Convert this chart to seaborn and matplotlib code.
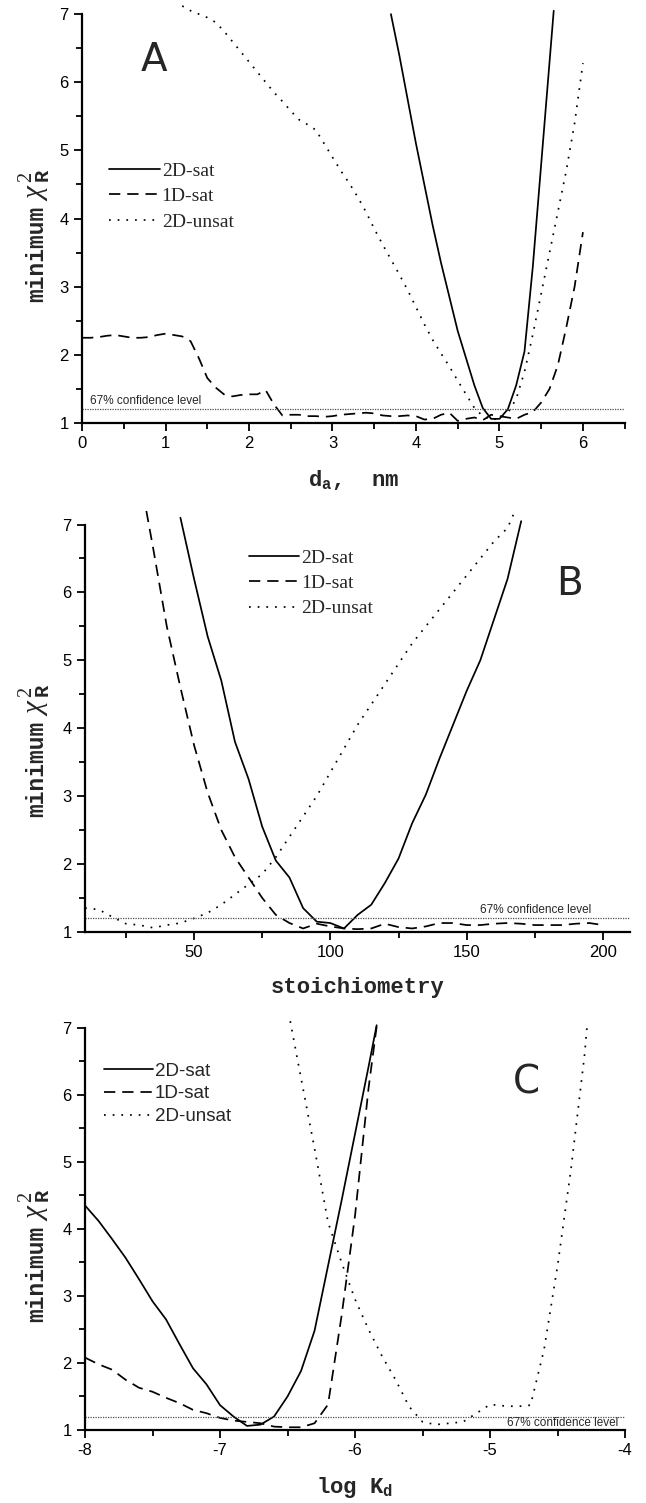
import numpy as np
import pandas as pd
import seaborn as sns
from matplotlib import pyplot as plt
from matplotlib.ticker import MultipleLocator

# PANEL A : d_a, nm
a_sat2d_x = [3.7, 3.8, 3.9, 4.0, 4.1, 4.2, 4.3, 4.4, 4.5, 4.6, 4.7, 4.8, 4.9,
             5.0, 5.1, 5.2, 5.3, 5.4, 5.5, 5.6, 5.65]
a_sat2d_y = [7.0, 6.4, 5.75, 5.1, 4.5, 3.9, 3.35, 2.85, 2.35, 1.95, 1.55, 1.22, 1.06,
             1.06, 1.2, 1.55, 2.05, 3.3, 4.8, 6.3, 7.05]

a_sat1d_x = [round(0.1 * i, 1) for i in range(61)]
a_sat1d_y = [2.25, 2.25, 2.26, 2.28, 2.29, 2.27, 2.25, 2.25, 2.26, 2.29,
             2.31, 2.29, 2.27, 2.2, 1.95, 1.66, 1.52, 1.42, 1.39, 1.41,
             1.42, 1.42, 1.48, 1.27, 1.11, 1.12, 1.12, 1.1, 1.1, 1.09,
             1.1, 1.12, 1.13, 1.14, 1.15, 1.14, 1.11, 1.1, 1.1, 1.11,
             1.1, 1.05, 1.06, 1.12, 1.15, 1.03, 1.06, 1.08, 1.04, 1.12,
             1.1, 1.08, 1.06, 1.12, 1.16, 1.3, 1.5, 1.85, 2.4, 3.0, 3.8]

a_unsat_x = [round(1.2 + 0.1 * i, 1) for i in range(49)]
a_unsat_y = [7.12, 7.05, 7.0, 6.95, 6.88, 6.75, 6.6, 6.45, 6.3,
             6.15, 6.0, 5.85, 5.72, 5.58, 5.45, 5.38, 5.3, 5.1, 4.9,
             4.7, 4.52, 4.32, 4.1, 3.85, 3.62, 3.4, 3.18, 2.95, 2.7,
             2.45, 2.22, 2.02, 1.83, 1.62, 1.42, 1.22, 1.1, 1.05, 1.06,
             1.15, 1.35, 1.75, 2.3, 2.9, 3.5, 4.1, 4.7, 5.4, 6.28]

# PANEL B : stoichiometry
b_sat2d_x = [45] + list(range(50, 175, 5))
b_sat2d_y = [7.1, 6.2, 5.35, 4.7, 3.8, 3.25, 2.55, 2.05, 1.8, 1.35, 1.15, 1.13, 1.05,
             1.25, 1.4, 1.72, 2.08, 2.6, 3.02, 3.55, 4.05, 4.55, 5.0, 5.6, 6.2, 7.05]

b_sat1d_x = [32.5] + list(range(35, 205, 5))
b_sat1d_y = [7.2, 6.65, 5.5, 4.6, 3.75, 3.05, 2.5, 2.1, 1.8, 1.5, 1.25, 1.13, 1.05, 1.12,
             1.08, 1.05, 1.04, 1.05, 1.12, 1.07, 1.05, 1.08, 1.13, 1.13, 1.1, 1.1,
             1.12, 1.13, 1.12, 1.1, 1.1, 1.1, 1.12, 1.13, 1.1]

b_unsat_x = list(range(10, 170, 5)) + [167.5]
b_unsat_y = [1.35, 1.33, 1.22, 1.12, 1.1, 1.06, 1.1, 1.13, 1.2, 1.28, 1.4, 1.55, 1.7,
             1.85, 2.1, 2.4, 2.7, 3.0, 3.35, 3.7, 4.05, 4.35, 4.65, 4.95, 5.25, 5.5,
             5.75, 6.0, 6.25, 6.5, 6.75, 6.95, 7.18]

# PANEL C : log Kd
c_sat2d_x = [round(-8 + 0.1 * i, 1) for i in range(22)] + [-5.84]
c_sat2d_y = [4.35, 4.12, 3.85, 3.57, 3.25, 2.92, 2.65, 2.28, 1.92, 1.68, 1.37, 1.2, 1.06,
             1.08, 1.2, 1.5, 1.88, 2.48, 3.45, 4.42, 5.42, 6.42, 7.04]

c_sat1d_x = [round(-8 + 0.1 * i, 1) for i in range(22)] + [-5.84]
c_sat1d_y = [2.08, 1.98, 1.9, 1.75, 1.63, 1.57, 1.48, 1.4, 1.3, 1.25, 1.18, 1.14, 1.12,
             1.1, 1.05, 1.04, 1.04, 1.1, 1.38, 2.7, 4.2, 6.1, 7.02]

c_unsat_x = [-6.48] + [round(-6.4 + 0.1 * i, 1) for i in range(22)] + [-4.28]
c_unsat_y = [7.1, 6.25, 5.2, 4.1, 3.5, 2.95, 2.5, 2.1, 1.75, 1.35, 1.12, 1.08,
             1.1, 1.12, 1.25, 1.38, 1.36, 1.35, 1.37, 2.2, 3.45, 4.9, 6.6, 7.06]

models = ['2D-sat', '1D-sat', '2D-unsat']
confidence = 1.2


def make_df(series):
    res = []
    for name, xs, ys in series:
        res.append(pd.DataFrame({'x': xs, 'chi': ys, 'model': name}))
    return pd.concat(res, ignore_index=True)


dfA = make_df([('2D-sat', a_sat2d_x, a_sat2d_y), ('1D-sat', a_sat1d_x, a_sat1d_y),
               ('2D-unsat', a_unsat_x, a_unsat_y)])
dfB = make_df([('2D-sat', b_sat2d_x, b_sat2d_y), ('1D-sat', b_sat1d_x, b_sat1d_y),
               ('2D-unsat', b_unsat_x, b_unsat_y)])
dfC = make_df([('2D-sat', c_sat2d_x, c_sat2d_y), ('1D-sat', c_sat1d_x, c_sat1d_y),
               ('2D-unsat', c_unsat_x, c_unsat_y)])

sns.set_theme(style='ticks')
plt.rcParams['font.family'] = ['Liberation Sans', 'DejaVu Sans']
plt.rcParams['axes.unicode_minus'] = False
plt.rcParams['mathtext.fontset'] = 'custom'
plt.rcParams['mathtext.rm'] = 'Liberation Serif'
plt.rcParams['mathtext.it'] = 'Liberation Serif:italic'
plt.rcParams['mathtext.tt'] = 'Liberation Mono:bold'
plt.rcParams['mathtext.bf'] = 'Liberation Mono:bold'

dashes = {'2D-sat': '', '1D-sat': (6.5, 4), '2D-unsat': (1, 4)}

fig = plt.figure(figsize=(6.46, 15.03), dpi=100)
axA = fig.add_axes([0.127, 0.7186, 0.840, 0.272])
axB = fig.add_axes([0.1316, 0.380, 0.844, 0.271])
axC = fig.add_axes([0.1316, 0.0486, 0.836, 0.2675])

# ax, data, xlim, major, minor, xlabel, ylabel x, ylabel y (minimum), ylabel y (chi)
panels = [
    (axA, dfA, (0, 6.5), 1, 0.5, r'd$_{\mathtt{a}}$,  nm', -0.083, 0.296, 0.543),
    (axB, dfB, (10, 210), 50, 25, 'stoichiometry', -0.088, 0.282, 0.530),
    (axC, dfC, (-8, -4), 1, 0.5, r'log K$_{\mathtt{d}}$', -0.089, 0.269, 0.520),
]

for ax, df, xlim, major, minor, xlabel, yl_x, yl_min, yl_chi in panels:
    sns.lineplot(data=df, x='x', y='chi', style='model', style_order=models,
                 dashes=dashes, color='black', linewidth=1.25, sort=False,
                 estimator=None, clip_on=False, ax=ax)
    ax.axhline(confidence, ls=(0, (1, 1)), lw=0.9, color='0.3')
    ax.set_xlim(*xlim)
    ax.set_ylim(1, 7)
    ax.xaxis.set_major_locator(MultipleLocator(major))
    ax.xaxis.set_minor_locator(MultipleLocator(minor))
    ax.yaxis.set_major_locator(MultipleLocator(1))
    ax.yaxis.set_minor_locator(MultipleLocator(0.5))
    ax.tick_params(which='major', direction='out', length=6, width=1.3,
                   labelsize=12, color='black', labelcolor='black')
    ax.tick_params(which='minor', direction='out', length=4, width=1.3, color='black')
    for s in ['top', 'right']:
        ax.spines[s].set_visible(False)
    for s in ['left', 'bottom']:
        ax.spines[s].set_linewidth(1.6)
        ax.spines[s].set_color('black')
    ax.set_xlabel(xlabel, family='Liberation Mono', weight='bold', fontsize=16, labelpad=12)
    ax.set_ylabel('')
    ax.text(yl_x, yl_min, 'minimum', transform=ax.transAxes, rotation=90,
            family='Liberation Mono', weight='bold', fontsize=16.5,
            ha='center', va='bottom')
    ax.text(yl_x - 0.004, yl_chi, r'$\chi\,^{2}_{\mathtt{R}}$', transform=ax.transAxes,
            rotation=90, fontsize=21, ha='center', va='bottom')

# legends
serif = {'family': 'Liberation Serif', 'size': 14}
sns.move_legend(axA, 'upper left', bbox_to_anchor=(0.05, 0.638), title=None,
                frameon=False, prop=serif, handlelength=2.6, handletextpad=0.1,
                labelspacing=0.4, borderpad=0, borderaxespad=0)
sns.move_legend(axB, 'upper left', bbox_to_anchor=(0.30, 0.94), title=None,
                frameon=False, prop=serif, handlelength=2.6, handletextpad=0.1,
                labelspacing=0.4, borderpad=0, borderaxespad=0)
sns.move_legend(axC, 'upper left', bbox_to_anchor=(0.035, 0.914), title=None,
                frameon=False, prop={'family': 'Liberation Sans', 'size': 13.5},
                handlelength=2.6, handletextpad=0.1, labelspacing=0.3,
                borderpad=0, borderaxespad=0)
for ax in [axA, axB, axC]:
    for h in ax.get_legend().get_lines():
        h.set_linewidth(1.25)

# panel letters
axA.text(0.133, 0.887, 'A', transform=axA.transAxes, fontsize=28,
         family='DejaVu Sans', ha='center', va='center')
axB.text(0.888, 0.855, 'B', transform=axB.transAxes, fontsize=28,
         family='DejaVu Sans', ha='center', va='center')
axC.text(0.818, 0.863, 'C', transform=axC.transAxes, fontsize=28,
         family='DejaVu Sans', ha='center', va='center')

# confidence level labels
axA.text(0.1, 1.23, '67% confidence level', fontsize=8.5, ha='left', va='bottom')
axB.text(155, 1.23, '67% confidence level', fontsize=8.5, ha='left', va='bottom')
axC.text(-4.05, 1.1, '67% confidence level', fontsize=8.5, ha='right', va='center')

plt.savefig('out.png', dpi=100)
